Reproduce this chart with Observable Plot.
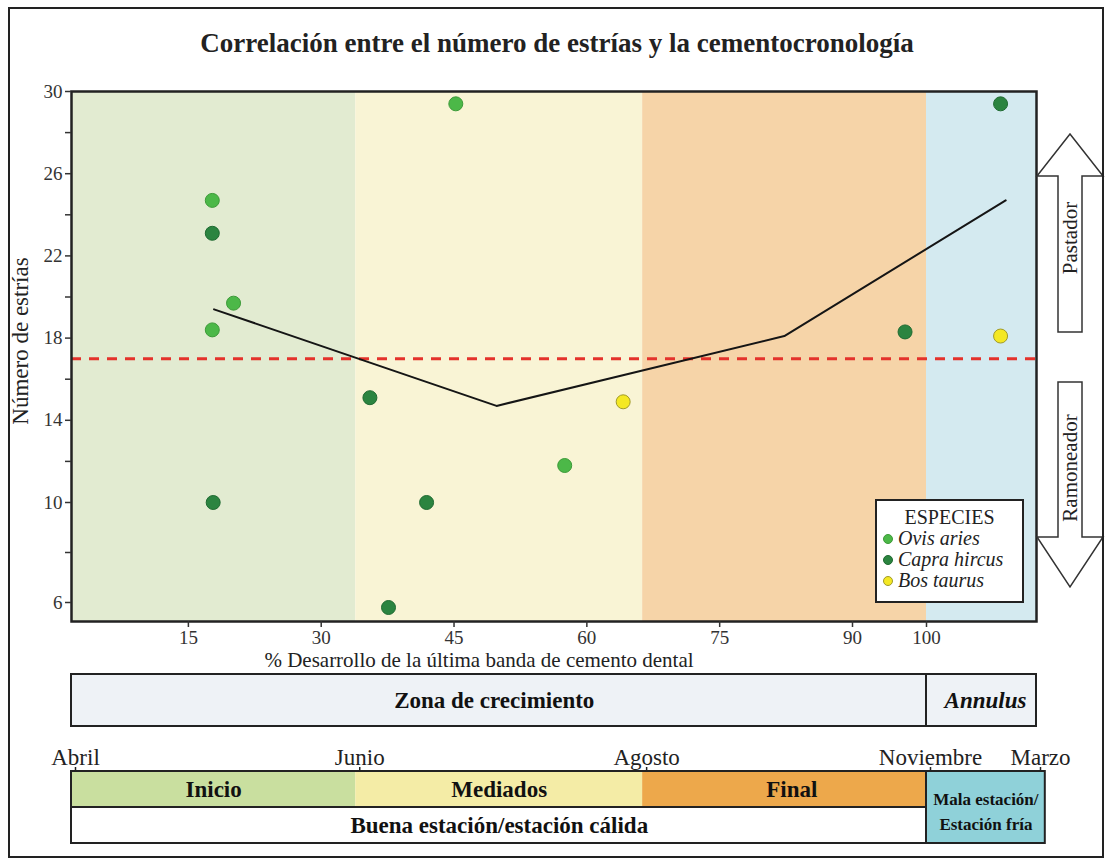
<!DOCTYPE html>
<html>
<head>
<meta charset="utf-8">
<script src="https://cdn.jsdelivr.net/npm/d3@7"></script>
<script src="https://cdn.jsdelivr.net/npm/@observablehq/plot@0.6"></script>
<style>
  body { margin: 0; background: #fff; }
  #page { position: relative; width: 1110px; height: 864px; font-family: "Liberation Serif", "Times New Roman", serif; color: #222; overflow: hidden; background: #fff; }
  #page svg { position: absolute; left: 0; background: transparent; }
  #border { position: absolute; left: 8px; top: 7px; width: 1092px; height: 847px; border: 2px solid #222; pointer-events: none; z-index: 10; }
  #title { position: absolute; left: 0; top: 27px; width: 1114px; text-align: center; font-weight: bold; font-size: 27px; line-height: 32px; }
  #ylabel { position: absolute; left: -129px; top: 328px; width: 300px; line-height: 26px; text-align: center; font-size: 23px; transform: rotate(-90deg); color: #222; }
  #xlabel { position: absolute; left: 0; top: 648px; width: 958px; text-align: center; font-size: 21px; line-height: 24px; color: #222; }
  #legend { position: absolute; left: 875px; top: 499px; width: 145px; height: 100px; border: 2px solid #222; background: #fff; z-index: 5; }
  #legend .t { text-align: center; font-size: 20px; line-height: 22px; margin-top: 5px; }
  #legend .it { font-size: 20px; line-height: 21px; font-style: italic; padding-left: 6px; white-space: nowrap; }
  #legend .sw { display: inline-block; width: 10px; height: 10px; border-radius: 50%; margin-right: 5px; vertical-align: 1px; box-sizing: border-box; }
  #arrows { position: absolute; left: 0; top: 0; z-index: 6; pointer-events: none; }
</style>
</head>
<body>
<div id="page">
  <div id="title">Correlación entre el número de estrías y la cementocronología</div>
  <div id="ylabel">Número de estrías</div>
  <div id="xlabel">% Desarrollo de la última banda de cemento dental</div>
  <div id="legend"></div>
  <div id="border"></div>
</div>
<script>
// ---------- data ----------
const species = ["Ovis aries", "Capra hircus", "Bos taurus"];
const speciesFill = ["#4cb848", "#2b8440", "#f4e824"];
const speciesStroke = ["#3c9a38", "#1f6a31", "#a09a2a"];

const ovisX = [17.7, 17.7, 20.1, 45.2, 57.5];
const ovisY = [24.7, 18.4, 19.7, 29.4, 11.8];
const capraX = [17.7, 17.8, 35.5, 41.9, 37.6, 97.1, 110.1];
const capraY = [23.1, 10.0, 15.1, 10.0, 5.8, 18.3, 29.4];
const bosX = [64.1, 110.1];
const bosY = [14.9, 18.1];

const trendX = [17.9, 49.8, 82.3, 110.8];
const trendY = [19.4, 14.7, 18.1, 24.7];
const threshold = 17;

const zoneNames = ["Inicio", "Mediados", "Final", "Annulus"];
const zoneStart = [1.8, 33.9, 66.3, 100];
const zoneEnd = [33.9, 66.3, 100, 115];
const zoneBg = ["#e2ebd1", "#f9f4d5", "#f6d4a8", "#d4eaf0"];
const phaseFill = ["#c9df9f", "#f4eca6", "#eda84b"];

const yTicks = [6, 10, 14, 18, 22, 26, 30];
const yMinorTicks = [8, 12, 16, 20, 24, 28];
const xTicks = [15, 30, 45, 60, 75, 90, 100];

const months = ["Abril", "Junio", "Agosto", "Noviembre", "Marzo"];
const monthPos = [1.8, 33.9, 66.3, 100, 115];

const growthNames = ["Zona de crecimiento", "Annulus"];
const growthStart = [1.8, 100];
const growthEnd = [100, 115];

const seasonNames = ["Buena estación/estación cálida", "Mala estación/\nEstación fría"];
const seasonStart = [1.8, 100];
const seasonEnd = [100, 116.2];
const seasonFill = ["#ffffff", "#8fd1d9"];

// ---------- scales (piecewise, as drawn in the original) ----------
const xScale = { type: "linear", domain: [1.8, 90, 100, 115], range: [71, 852, 926, 1036] };
const yScale = { type: "linear", domain: [5.24, 6, 10, 30], range: [561, 542, 442, 31] };

const pts = (xs, ys) => xs.map((x, i) => ({ x, y: ys[i] }));
const zones = zoneNames.map((n, i) => ({ n, x1: zoneStart[i], x2: zoneEnd[i], fill: zoneBg[i] }));
const trend = pts(trendX, trendY);
const font = { fontFamily: "Liberation Serif, Times New Roman, serif", background: "transparent", color: "#333", overflow: "visible" };

const main = Plot.plot({
  width: 1110, height: 612,
  marginTop: 31, marginBottom: 51, marginLeft: 71, marginRight: 74,
  x: xScale, y: yScale,
  style: { ...font, fontSize: "19px" },
  marks: [
    Plot.rect(zones, { x1: "x1", x2: "x2", fill: d => d.fill }),
    Plot.ruleY([threshold], { stroke: "#e4322b", strokeWidth: 3, strokeDasharray: "10,8" }),
    Plot.line(trend, { x: "x", y: "y", stroke: "#151515", strokeWidth: 2 }),
    Plot.dot(pts(ovisX, ovisY), { x: "x", y: "y", r: 7, fill: speciesFill[0], stroke: speciesStroke[0], strokeWidth: 1 }),
    Plot.dot(pts(capraX, capraY), { x: "x", y: "y", r: 7, fill: speciesFill[1], stroke: speciesStroke[1], strokeWidth: 1 }),
    Plot.dot(pts(bosX, bosY), { x: "x", y: "y", r: 7, fill: speciesFill[2], stroke: speciesStroke[2], strokeWidth: 1 }),
    Plot.frame({ stroke: "#222", strokeWidth: 2.5 }),
    Plot.axisY({ ticks: yTicks, tickSize: 6, tickPadding: 3, label: null, stroke: "#333", strokeWidth: 1.5, fontSize: 19 }),
    Plot.axisY({ ticks: yMinorTicks, tickSize: 6, tickFormat: () => "", label: null, stroke: "#333", strokeWidth: 1.5 }),
    Plot.axisX({ ticks: xTicks, tickSize: 6, tickPadding: 3, label: null, stroke: "#333", strokeWidth: 1.5, fontSize: 19 })
  ]
});
main.style.top = "60px";
document.getElementById("page").appendChild(main);

// ---------- growth band (Zona de crecimiento / Annulus) ----------
const growth = growthNames.map((n, i) => ({ n, x1: growthStart[i], x2: growthEnd[i], mid: (growthStart[i] + growthEnd[i]) / 2 }));
const growthPlot = Plot.plot({
  width: 1110, height: 56,
  marginTop: 2, marginBottom: 2, marginLeft: 71, marginRight: 74,
  x: { ...xScale, axis: null },
  style: { ...font, fontSize: "23px" },
  marks: [
    Plot.rect(growth, { x1: "x1", x2: "x2", fill: "#eef2f6", stroke: "#222", strokeWidth: 2 }),
    Plot.text([growth[0]], { x: "mid", text: "n", fontWeight: "bold", fill: "#111", fontSize: 23, dx: -12 }),
    Plot.text([growth[1]], { x: "mid", text: "n", fontWeight: "bold", fontStyle: "italic", fill: "#111", fontSize: 23, dx: 4 })
  ]
});
growthPlot.style.top = "672px";
document.getElementById("page").appendChild(growthPlot);

// ---------- season band ----------
const phases = zoneNames.slice(0, 3).map((n, i) => ({ n, x1: zoneStart[i], x2: zoneEnd[i], fill: phaseFill[i], mid: (zoneStart[i] + zoneEnd[i]) / 2 }));
const seasons = seasonNames.map((n, i) => ({ n, x1: seasonStart[i], x2: seasonEnd[i], fill: seasonFill[i], mid: (seasonStart[i] + seasonEnd[i]) / 2 }));
const monthMap = new Map(monthPos.map((p, i) => [p, months[i]]));

const seasonPlot = Plot.plot({
  width: 1110, height: 110,
  marginTop: 35, marginBottom: 3, marginLeft: 71, marginRight: 74,
  x: xScale,
  y: { type: "band", domain: ["fase", "estacion"], paddingInner: 0, paddingOuter: 0, axis: null },
  style: { ...font, fontSize: "23px" },
  marks: [
    Plot.barX(phases, { x1: "x1", x2: "x2", y: () => "fase", fill: d => d.fill }),
    Plot.barX([seasons[0]], { x1: "x1", x2: "x2", y: () => "fase", fill: "none", stroke: "#222", strokeWidth: 2 }),
    Plot.barX([seasons[0]], { x1: "x1", x2: "x2", y: () => "estacion", fill: d => d.fill, stroke: "#222", strokeWidth: 2 }),
    Plot.rect([seasons[1]], { x1: "x1", x2: "x2", fill: d => d.fill, stroke: "#222", strokeWidth: 2 }),
    Plot.text(phases, { x: "mid", y: () => "fase", text: "n", fontWeight: "bold", fill: "#111", fontSize: 23 }),
    Plot.text([seasons[0]], { x: "mid", y: () => "estacion", text: "n", fontWeight: "bold", fill: "#111", fontSize: 23, dx: -7 }),
    Plot.text([seasons[1]], { x: "mid", text: "n", fontWeight: "bold", fill: "#111", fontSize: 17, lineHeight: 1.45, dy: 2 }),
    Plot.axisX({ anchor: "top", ticks: monthPos, tickFormat: d => monthMap.get(d), tickSize: 5, tickPadding: 2, label: null, stroke: "#222", strokeWidth: 1.5, fontSize: 23, fill: "#222", dx: 4 })
  ]
});
seasonPlot.style.top = "736px";
document.getElementById("page").appendChild(seasonPlot);

// ---------- legend ----------
const legend = document.getElementById("legend");
legend.innerHTML = '<div class="t">ESPECIES</div>' + species.map((s, i) =>
  `<div class="it"><span class="sw" style="background:${speciesFill[i]};border:1px solid ${speciesStroke[i]}"></span>${s}</div>`).join("");

// ---------- right-hand arrows ----------
const ns = "http://www.w3.org/2000/svg";
const arrows = document.createElementNS(ns, "svg");
arrows.setAttribute("id", "arrows");
arrows.setAttribute("width", "1110");
arrows.setAttribute("height", "864");
arrows.innerHTML = `
  <polygon points="1070,134 1103,176 1082,176 1082,332 1058,332 1058,176 1037,176" fill="#fff" stroke="#333" stroke-width="1.5"/>
  <polygon points="1058,382 1082,382 1082,537 1103,537 1070,587 1037,537 1058,537" fill="#fff" stroke="#333" stroke-width="1.5"/>
  <text transform="translate(1077,238) rotate(-90)" text-anchor="middle" font-family="Liberation Serif, serif" font-size="21" fill="#222">Pastador</text>
  <text transform="translate(1077,468) rotate(-90)" text-anchor="middle" font-family="Liberation Serif, serif" font-size="21" fill="#222">Ramoneador</text>`;
arrows.style.top = "0px";
document.getElementById("page").appendChild(arrows);
</script>
</body>
</html>
